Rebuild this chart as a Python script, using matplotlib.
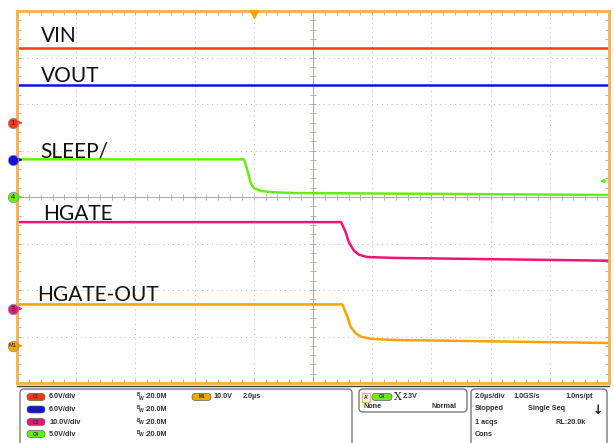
import numpy as np
import matplotlib.pyplot as plt
from matplotlib.patches import FancyBboxPatch, Rectangle

W, H = 614, 443

t_flat = [-10.0, 10.0]
v_vin = [9.65, 9.65]
v_vout = [9.7, 9.7]

t_sleep = [-10.0, -2.33, -2.22, -2.10, -1.99, -1.76, -1.32, -0.64, 10.0]
v_sleep = [4.05, 4.05, 2.90, 1.47, 0.94, 0.65, 0.50, 0.43, 0.22]

t_hgate = [-10.0, 0.95, 1.10, 1.21, 1.38, 1.55, 1.83, 2.73, 10.0]
v_hgate = [18.6, 18.6, 16.5, 14.3, 12.5, 11.6, 11.1, 10.9, 10.3]

t_hgout = [-10.0, 0.99, 1.16, 1.27, 1.44, 1.61, 1.95, 2.73, 10.0]
v_hgout = [8.9, 8.9, 6.3, 4.1, 2.7, 2.0, 1.5, 1.25, 0.6]

# Kanal-Einstellungen: V/div und Nullpunkt in div
scales = {"C1": 6.0, "C2": 6.0, "C3": 10.0, "C4": 5.0, "M1": 10.0}
offsets = {"C1": 1.6, "C2": 0.8, "C3": -2.4, "C4": 0.0, "M1": -3.2}
time_per_div = 2.0
trig_time = -2.0
trig_level_div = 0.344

colors = {"C1": "#ff3814", "C2": "#1212e0", "C3": "#ee1478",
          "C4": "#66ee11", "M1": "#f6a400"}
frame_col = "#f4b04a"
txt_col = "#2e2e2e"


def to_div(v, ch):
    return offsets[ch] + np.array(v) / scales[ch]


fig = plt.figure(figsize=(W / 100, H / 100), dpi=100)
fig.patch.set_facecolor("white")

ax = fig.add_axes([17 / W, (H - 383) / H, 592 / W, 372 / H])
ax.set_xlim(-5, 5)
ax.set_ylim(-4, 4)

# Raster
ax.set_xticks(range(-5, 6))
ax.set_yticks(range(-4, 5))
ax.set_xticks(np.arange(-5, 5.01, 0.2), minor=True)
ax.set_yticks(np.arange(-4, 4.01, 0.2), minor=True)
ax.tick_params(which="both", direction="in", length=3, width=0.6, color="#a8a8a8",
               top=True, right=True, labelbottom=False, labelleft=False)
ax.grid(True, which="major", linestyle=(0, (1, 4)), color="#b8b8b8", lw=0.7)
ax.axhline(0, color="#b0a898", lw=0.7)
ax.axvline(0, color="#b0a898", lw=0.7)
mx = np.arange(-5, 5.01, 0.2)
my = np.arange(-4, 4.01, 0.2)
ax.plot(mx, np.zeros_like(mx), ls="none", marker="|", ms=5, mew=0.6, color="#a8a8a8")
ax.plot(np.zeros_like(my), my, ls="none", marker="_", ms=5, mew=0.6, color="#a8a8a8")
for s in ax.spines.values():
    s.set_color(frame_col)
    s.set_linewidth(2)

# Kurven
ax.plot(np.array(t_flat) / time_per_div, to_div(v_vin, "C1"), color=colors["C1"], lw=1.8)
ax.plot(np.array(t_flat) / time_per_div, to_div(v_vout, "C2"), color=colors["C2"], lw=1.8)
ax.plot(np.array(t_sleep) / time_per_div, to_div(v_sleep, "C4"), color=colors["C4"], lw=1.8)
ax.plot(np.array(t_hgate) / time_per_div, to_div(v_hgate, "C3"), color=colors["C3"], lw=1.8)
ax.plot(np.array(t_hgout) / time_per_div, to_div(v_hgout, "M1"), color=colors["M1"], lw=1.8)

# Kanalmarker links
for lab, ch in [("1", "C1"), ("2", "C2"), ("4", "C4"), ("3", "C3"), ("M1", "M1")]:
    y = offsets[ch]
    ax.plot([-5.07], [y], marker="o", ms=7.5, mfc=colors[ch], mec="#909090", mew=0.6,
            clip_on=False, zorder=5)
    ax.text(-5.07, y, lab, fontsize=4 if lab == "M1" else 5, ha="center", va="center",
            color="#202020", clip_on=False, zorder=6)
    ax.annotate("", xy=(-4.86, y), xytext=(-4.99, y),
                arrowprops=dict(arrowstyle="-|>", color=colors[ch], lw=0.8, mutation_scale=5),
                annotation_clip=False)

# Triggermarker
ax.plot([trig_time / time_per_div], [4 - 3 / 46.5], marker="v", ms=6, color=colors["M1"],
        clip_on=False, zorder=5)
ax.annotate("", xy=(4.8, trig_level_div), xytext=(4.99, trig_level_div),
            arrowprops=dict(arrowstyle="-|>", color=colors["C4"], lw=0.9, mutation_scale=6))

# Overlay in Pixelkoordinaten
ui = fig.add_axes([0, 0, 1, 1])
ui.set_xlim(0, W)
ui.set_ylim(H, 0)
ui.axis("off")

lab_font = dict(family=["Lato", "DejaVu Sans"], fontsize=15, color="#111111", va="baseline")
ui.text(41, 42, "VIN", **lab_font)
ui.text(41, 82, "VOUT", **lab_font)
ui.text(40, 158, "SLEEP/", **lab_font)
ui.text(43, 220, "HGATE", **lab_font)
ui.text(37, 301, "HGATE-OUT", **lab_font)

# Statusleiste
ui.plot([17, 609], [386, 386], color="#404040", lw=1)
for x0, y0, w, h in [(20, 389, 332, 60), (359, 389, 108, 23), (471, 389, 136, 60)]:
    ui.add_patch(FancyBboxPatch((x0, y0), w, h, boxstyle="round,pad=0,rounding_size=4",
                                fc="white", ec="#7a7a7a", lw=1))

st = dict(family="Liberation Sans", fontweight="bold", fontsize=5.2, color=txt_col, va="center")


def pill(x0, yc, w, col, lab):
    ui.add_patch(FancyBboxPatch((x0, yc - 3.5), w, 7, boxstyle="round,pad=0,rounding_size=3.5",
                                fc=col, ec="#606060", lw=0.5))
    ui.text(x0 + w / 2, yc, lab, family="Liberation Sans", fontweight="bold", fontsize=3.3,
            color="#303030", ha="center", va="center")


rows = [397, 409.5, 422, 434]
ch_rows = [("C1", "6.0V/div"), ("C2", "6.0V/div"), ("C3", "10.0V/div"), ("C4", "5.0V/div")]
for yc, (ch, txt) in zip(rows, ch_rows):
    pill(27, yc, 18, colors[ch], ch)
    ui.text(49, yc, txt, **st)
    ui.text(137, yc - 2, "B", family="Liberation Sans", fontweight="bold", fontsize=3.3,
            color=txt_col, va="center")
    ui.text(139, yc + 1, "W", family="Liberation Sans", fontweight="bold", fontsize=3.6,
            color=txt_col, va="center")
    ui.text(144.5, yc, ":20.0M", **st)

pill(192, rows[0], 19, colors["M1"], "M1")
ui.text(213, rows[0], "10.0V", **st)
ui.text(243, rows[0], "2.0µs", **st)

# Trigger-Box
ui.add_patch(Rectangle((362, 393), 8, 9, fc="#f0f0f0", ec=frame_col, lw=0.8))
ui.text(366, 397.5, "A'", family="Liberation Sans", fontweight="bold", fontsize=3.6,
        color=txt_col, ha="center", va="center")
pill(372, 397, 20, colors["C4"], "C4")
ui.text(394, 397.5, "Χ", family="DejaVu Serif", fontsize=8, color="#202020", va="center")
ui.text(403, 396, "2.3V", **st)
ui.text(363, 407, "None", **st)
ui.text(457, 407, "Normal", ha="right", **{k: v for k, v in st.items()})

# Zeitbasis-Box
ui.text(475, 396, "2.0µs/div", **st)
ui.text(513, 396, "1.0GS/s", **st)
ui.text(565, 396, "1.0ns/pt", **st)
ui.text(475, 409, "Stopped", **st)
ui.text(528, 409, "Single Seq", **st)
ui.text(598, 410, "↓", family="DejaVu Sans", fontweight="bold", fontsize=9, color="#202020",
        ha="center", va="center")
ui.text(475, 422, "1 acqs", **st)
ui.text(555, 422, "RL:20.0k", **st)
ui.text(475, 434, "Cons", **st)

fig.savefig("out.png", dpi=100)
